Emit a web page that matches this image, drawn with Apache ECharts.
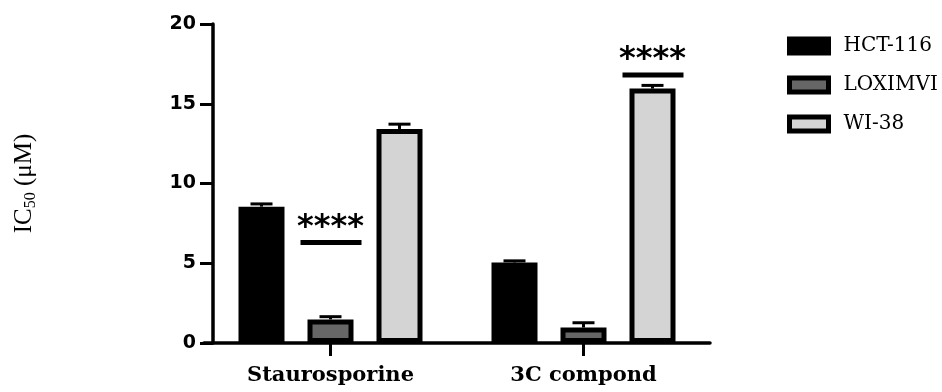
<!DOCTYPE html>
<html><head><meta charset="utf-8">
<script src="https://cdn.jsdelivr.net/npm/echarts@6/dist/echarts.min.js"></script>
<style>html,body{margin:0;padding:0;background:#fff}#c{width:942px;height:392px}</style>
</head><body><div id="c"></div>
<script>
const categories = ['Staurosporine', '3C compond'];
const seriesNames = ['HCT-116', 'LOXIMVI', 'WI-38'];
const hctValues = [8.55, 5.05];
const hctErrors = [0.17, 0.1];
const loxValues = [1.48, 0.97];
const loxErrors = [0.17, 0.3];
const wiValues = [13.42, 15.95];
const wiErrors = [0.3, 0.2];
const yMin = 0, yMax = 20, yStep = 5;
const sigCategoryIdx = [0, 1];
const sigBarIdx = [1, 2];
const sigValues = [6.3, 16.8];
const sigLabels = ['****', '****'];

const BAR_W = 46, BAR_GAP_PX = 23, CAP = 22;
const colors = ['#000000', '#666666', '#d4d4d4'];

function barOffset(idx) { return (idx - 1) * (BAR_W + BAR_GAP_PX); }

function barSeries(name, vals, color) {
  return {
    name: name, type: 'bar', data: vals, barWidth: BAR_W,
    barGap: (BAR_GAP_PX / BAR_W * 100).toFixed(1) + '%',
    itemStyle: { color: color, borderColor: '#000', borderWidth: 5 },
    emphasis: { disabled: true }, z: 2
  };
}

function errorSeries(vals, errs, barIndex) {
  return {
    type: 'custom', silent: true, z: 3,
    data: vals.map((v, i) => [i, v, v + errs[i]]),
    encode: { x: 0, y: [1, 2] },
    renderItem(params, api) {
      const cat = api.value(0);
      const p0 = api.coord([cat, api.value(1)]);
      const p1 = api.coord([cat, api.value(2)]);
      const x = p0[0] + barOffset(barIndex);
      return { type: 'group', children: [
        { type: 'line', shape: { x1: x, y1: p0[1], x2: x, y2: p1[1] }, style: { stroke: '#000', lineWidth: 3 } },
        { type: 'line', shape: { x1: x - CAP / 2, y1: p1[1], x2: x + CAP / 2, y2: p1[1] }, style: { stroke: '#000', lineWidth: 3 } }
      ]};
    }
  };
}

const sigSeries = {
  type: 'custom', silent: true, z: 4,
  data: sigValues.map((v, i) => [sigCategoryIdx[i], v, sigBarIdx[i]]),
  encode: { x: 0, y: 1 },
  renderItem(params, api) {
    const p = api.coord([api.value(0), api.value(1)]);
    const x = p[0] + barOffset(api.value(2));
    const label = sigLabels[params.dataIndex];
    return { type: 'group', children: [
      { type: 'rect', shape: { x: x - 30, y: p[1] - 2.5, width: 61, height: 5 }, style: { fill: '#000' } },
      { type: 'text', style: { text: label, x: x, y: p[1] - 15, align: 'center', verticalAlign: 'middle',
        font: 'bold 32px "DejaVu Sans"', fill: '#000' } }
    ]};
  }
};

const chart = echarts.init(document.getElementById('c'));
chart.setOption({
  animation: false,
  backgroundColor: '#fff',
  grid: { left: 204, width: 506, top: 24, height: 319 },
  legend: {
    orient: 'vertical', left: 782, top: 31, itemWidth: 39, itemHeight: 14, itemGap: 19,
    icon: 'rect',
    itemStyle: { borderWidth: 5, borderColor: '#000' },
    data: seriesNames,
    textStyle: { fontFamily: 'DejaVu Serif', fontSize: 20, color: '#000', padding: [0, 0, 0, 10] },
    selectedMode: false
  },
  xAxis: {
    type: 'category', data: categories,
    axisLine: { lineStyle: { color: '#000', width: 3.5 } },
    axisTick: { show: true, alignWithLabel: true, length: 13, lineStyle: { color: '#000', width: 3 } },
    axisLabel: { margin: 22, color: '#000', fontFamily: 'DejaVu Serif', fontWeight: 'bold', fontSize: 21 }
  },
  yAxis: {
    type: 'value', min: yMin, max: yMax, interval: yStep, offset: -9,
    name: '{a|IC}{s|50}{a| (μM)}', nameLocation: 'middle', nameGap: 174, nameRotate: 90,
    nameTextStyle: { rich: {
      a: { fontFamily: 'Liberation Serif', fontSize: 25, color: '#000', lineHeight: 30 },
      s: { fontFamily: 'Liberation Serif', fontSize: 16, color: '#000', lineHeight: 30, verticalAlign: 'bottom' }
    } },
    splitLine: { show: false },
    axisLine: { show: true, lineStyle: { color: '#000', width: 3.5 } },
    axisTick: { show: true, length: 13, lineStyle: { color: '#000', width: 3 } },
    axisLabel: { margin: 17, color: '#000', fontFamily: 'DejaVu Sans', fontWeight: 'bold', fontSize: 19 }
  },
  series: [
    barSeries(seriesNames[0], hctValues, colors[0]),
    barSeries(seriesNames[1], loxValues, colors[1]),
    barSeries(seriesNames[2], wiValues, colors[2]),
    errorSeries(hctValues, hctErrors, 0),
    errorSeries(loxValues, loxErrors, 1),
    errorSeries(wiValues, wiErrors, 2),
    sigSeries
  ]
});
</script></body></html>
